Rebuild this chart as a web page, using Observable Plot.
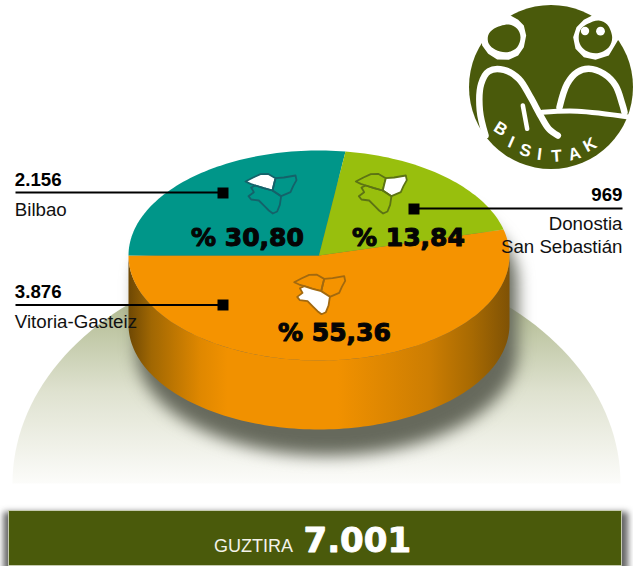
<!DOCTYPE html>
<html>
<head>
<meta charset="utf-8">
<script src="https://cdn.jsdelivr.net/npm/d3@7"></script>
<script src="https://cdn.jsdelivr.net/npm/@observablehq/plot@0.6"></script>
<style>
html,body{margin:0;padding:0;background:#fff}
svg{display:block}
</style>
</head>
<body>
<div id="chart"></div>
<script>
// ---- chart values
const cities = ["Vitoria-Gasteiz", "Bilbao", "Donostia San Sebastián"];
const visits = [3876, 2156, 969];
const shares = [55.36, 30.80, 13.84];
const total = 7001;
const totalLabel = "GUZTIRA";
const sliceColors = ["#f59300", "#009689", "#98bf0d"];
// angular extent of every slice as it appears on the (hand-drawn) pie, degrees
const sliceFrom = [14.4, 180, 82];
const sliceTo = [-180, 82, 14.4];

// ---- layout of the picture
const W = 633, H = 566;
const cx = 318.5, cy = 255, rx = 190.5, ry = 105, depth = 69 / 105;
const X = (px) => (px - cx) / rx;
const Y = (py) => (cy - py) / ry;
const es = "Liberation Sans, Arial, sans-serif";
const heavy = "DejaVu Sans, sans-serif";
const fmtES = (v) => d3.format(",")(v).replace(/,/g, ".");
const fmtPct = (v) => "% " + v.toFixed(2).replace(".", ",");
const arc = (a0, a1, dy = 0, step = 1.5) => {
  const n = Math.ceil(Math.abs(a1 - a0) / step);
  return d3.range(n + 1).map((i) => {
    const a = (a0 + (a1 - a0) * i / n) * Math.PI / 180;
    return {x: Math.cos(a), y: Math.sin(a) - dy};
  });
};

// pie tables
const sliceRows = cities.flatMap((c, i) => [{x: 0, y: 0, city: c}, ...arc(sliceFrom[i], sliceTo[i]).map((p) => ({...p, city: c}))]);
const wall = [...arc(180, 360), ...arc(360, 180, depth)];
const silhouette = [...arc(0, 180), ...arc(180, 360, depth)];
const silhouetteShadow = silhouette.map((p) => ({x: p.x + X(cx + 8), y: p.y + Y(cy + 26)}));

// dome behind the pie
const domeC = {x: 316, y: 483, rx: 304, ry: 228};
const dome = d3.range(0, 181, 2).map((d) => {
  const a = d * Math.PI / 180;
  return {x: X(domeC.x + domeC.rx * Math.cos(a)), y: Y(domeC.y - domeC.ry * Math.sin(a))};
});

// map icon (three provinces) drawn from a small outline table
const provinces = {
  Bizkaia: [[15,48],[38,36],[60,26],[82,25],[105,38],[100,58],[96,75],[70,68],[45,60],[30,55]],
  Gipuzkoa: [[105,38],[130,36],[165,30],[168,44],[158,62],[150,80],[122,92],[96,75],[100,58]],
  Araba: [[96,75],[122,92],[118,118],[110,138],[97,144],[85,135],[72,122],[55,105],[32,102],[24,92],[40,80],[32,66],[45,60],[70,68]]
};
const icons = [
  {white: "Bizkaia", dx: 0, dy: 0, stroke: "#14626a"},
  {white: "Gipuzkoa", dx: 110.3, dy: 0, stroke: "#5c7314"},
  {white: "Araba", dx: 48.7, dy: 100.7, stroke: "#a2690f"}
];
const iconMarks = icons.flatMap((ic) => Object.keys(provinces).map((name) =>
  Plot.line(provinces[name].map(([a, b]) => ({x: X(a / 3 + 240 + ic.dx), y: Y(b / 3 + 165 + ic.dy)})), {
    x: "x", y: "y", curve: "linear-closed",
    fill: name === ic.white ? "white" : "none",
    stroke: ic.stroke, strokeWidth: 1.8, strokeLinejoin: "round"
  })));

// leaders
const leaders = [
  {x1: 15, x2: 222, y: 192},
  {x1: 15, x2: 222, y: 304.5},
  {x1: 413, x2: 622, y: 208}
];
const dots = [{x: 222.5, y: 192.5}, {x: 222.5, y: 304.5}, {x: 413.5, y: 208.5}];

const T = (text, x, y, o = {}) => Plot.text([text], {
  x: () => X(x), y: () => Y(y), text: (d) => d, lineAnchor: "bottom", textAnchor: "start",
  fontFamily: es, fontSize: 18.7, fill: "#111", ...o
});

// logo
const logoGreen = "#4a5a0b";
const L = (pts) => pts.map(([a, b]) => ({x: X(a / 3 + 460), y: Y(b / 3)}));
const logoStroke = (pts, w) => Plot.line(L(pts), {x: "x", y: "y", curve: "catmull-rom", stroke: "white", strokeWidth: w, strokeLinecap: "round", strokeLinejoin: "round"});
const headPoly = (pts, ox, fill, curve) => Plot.line(pts.map(([a, b]) => ({x: X(a / 3 + ox), y: Y(b / 3)})), {x: "x", y: "y", curve, fill, stroke: "none"});
const logoDot = (x, y, r, o) => Plot.dot([0], {x: () => X(x), y: () => Y(y), r, stroke: null, ...o});
const leftHeadOuter = [[50,135],[68,160],[95,177],[130,178],[158,165],[175,140],[182,105],[175,75],[158,58],[135,45],[100,20],[40,40]];
const leftHeadInner = [[68,105],[85,85],[130,72],[155,85],[165,110],[155,140],[125,155],[90,148],[70,130]];
const rightHeadOuter = [[125,45],[100,58],[78,80],[68,110],[75,145],[100,170],[135,178],[175,165],[205,115],[250,60],[200,0]];
const rightHeadInner = [[85,105],[92,85],[112,70],[145,60],[170,72],[185,110],[175,140],[140,158],[105,150],[88,130]];
const logoLetters = [["B",120,385,32],["I",152,425,24],["S",195,450,16],["I",237,462,7],["T",288,467,-4],["A",342,460,-15],["K",388,433,-28]];
const letterMarks = logoLetters.map(([c, a, b, rot]) => Plot.text([c], {
  x: () => X(a / 3 + 460), y: () => Y(b / 3), text: (d) => d, rotate: rot,
  fontFamily: es, fontWeight: "bold", fontSize: 17, fill: "white"
}));

const svgDefs = () => {
  const s = d3.create("svg:defs");
  const wallG = s.append("linearGradient").attr("id", "wallGrad");
  [[0,"#6e4804"],[0.06,"#a06703"],[0.19,"#e08800"],[0.26,"#f19100"],[0.55,"#f19100"],[0.79,"#cc7d02"],[0.9,"#a86a02"],[1,"#7f5205"]].forEach(([o,c]) => wallG.append("stop").attr("offset", o).attr("stop-color", c));
  const domeG = s.append("linearGradient").attr("id", "domeGrad").attr("x1", 0).attr("x2", 0).attr("y1", 0).attr("y2", 1);
  [[0,"#98a272"],[0.3,"#bcc4a0"],[0.6,"#dfe2d0"],[0.85,"#f1f2ea"],[1,"#fcfcfa"]].forEach(([o,c]) => domeG.append("stop").attr("offset", o).attr("stop-color", c));
  return s.node();
};

const chart = Plot.plot({
  width: W, height: H, margin: 0,
  style: {background: "white", overflow: "hidden"},
  x: {domain: [-1, 1], range: [cx - rx, cx + rx], axis: null},
  y: {domain: [-1, 1], range: [cy + ry, cy - ry], axis: null},
  color: {domain: cities, range: sliceColors},
  marks: [
    svgDefs,
    // dome
    Plot.line(dome, {x: "x", y: "y", curve: "linear-closed", fill: "url(#domeGrad)", stroke: "none"}),
    // pie shadow
    Plot.line(silhouetteShadow, {x: "x", y: "y", curve: "linear-closed", fill: "#66695c", stroke: "none", imageFilter: "blur(8px)"}),
    // pie wall and top
    Plot.line(wall, {x: "x", y: "y", curve: "linear-closed", fill: "url(#wallGrad)", stroke: "none"}),
    Plot.line(sliceRows, {x: "x", y: "y", z: "city", fill: "city", stroke: "none", curve: "linear-closed"}),
    // icons
    ...iconMarks,
    // percent labels
    ...[[334, 340], [247, 245], [408, 245]].map(([x, y], i) => T(fmtPct(shares[i]), x, y, {textAnchor: "middle", fontFamily: heavy, fontWeight: "bold", fontSize: 25, fill: "#050505", stroke: "#050505", strokeWidth: 1.1})),
    // leaders
    ...leaders.map((l) => Plot.link([l], {x1: (d) => X(d.x1), x2: (d) => X(d.x2), y1: (d) => Y(d.y), y2: (d) => Y(d.y), stroke: "black", strokeWidth: 2.2})),
    ...dots.map((d) => Plot.dot([d], {x: (p) => X(p.x), y: (p) => Y(p.y), symbol: "square", r: 6.2, fill: "black", stroke: null})),
    // labels
    T(fmtES(visits[1]), 14.3, 185, {fontWeight: "bold", fill: "#000"}),
    T(cities[1], 14.3, 215),
    T(fmtES(visits[0]), 14.3, 297, {fontWeight: "bold", fill: "#000"}),
    T(cities[0], 14.3, 327),
    T(fmtES(visits[2]), 622, 200, {fontWeight: "bold", fill: "#000", textAnchor: "end"}),
    T(cities[2].split(" ")[0], 622, 229, {textAnchor: "end"}),
    T(cities[2].split(" ").slice(1).join(" "), 622, 252, {textAnchor: "end"}),
    // total bar
    Plot.rect([0], {x1: () => X(3.5), x2: () => X(628), y1: () => Y(512), y2: () => Y(572), fill: "#222", fillOpacity: 0.7, imageFilter: "blur(3px)"}),
    Plot.rect([0], {x1: () => X(8.5), x2: () => X(621.5), y1: () => Y(510.5), y2: () => Y(565.5), fill: logoGreen, stroke: "#c6cbb0", strokeWidth: 1}),
    T(totalLabel, 213.5, 551, {fill: "#f3f3ea", fontSize: 18}),
    T(fmtES(total), 303, 551, {fill: "white", stroke: "white", strokeWidth: 0.9, fontFamily: heavy, fontWeight: "bold", fontSize: 34}),
    // logo
    logoDot(550.5, 86.5, 82, {fill: logoGreen}),
    headPoly(leftHeadOuter, 465, "white", "linear-closed"),
    headPoly(leftHeadInner, 465, logoGreen, "catmull-rom-closed"),
    headPoly(rightHeadOuter, 550, "white", "linear-closed"),
    headPoly(rightHeadInner, 550, logoGreen, "catmull-rom-closed"),
    logoDot(584.5, 30.5, 4.2, {fill: "white"}),
    logoDot(600, 30.7, 4.4, {fill: "white"}),
    logoStroke([[75,405],[58,330],[62,250],[85,212],[130,208],[175,235],[210,290],[240,345],[265,385],[292,405]], 6.5),
    logoStroke([[297,320],[320,250],[350,215],[385,205],[430,220],[465,255],[485,310],[492,335]], 6.5),
    logoStroke([[245,335],[350,332],[510,350]], 5),
    logoStroke([[187,315],[200,385]], 4.5),
    ...letterMarks
  ]
});
document.getElementById("chart").append(chart);
</script>
</body>
</html>
